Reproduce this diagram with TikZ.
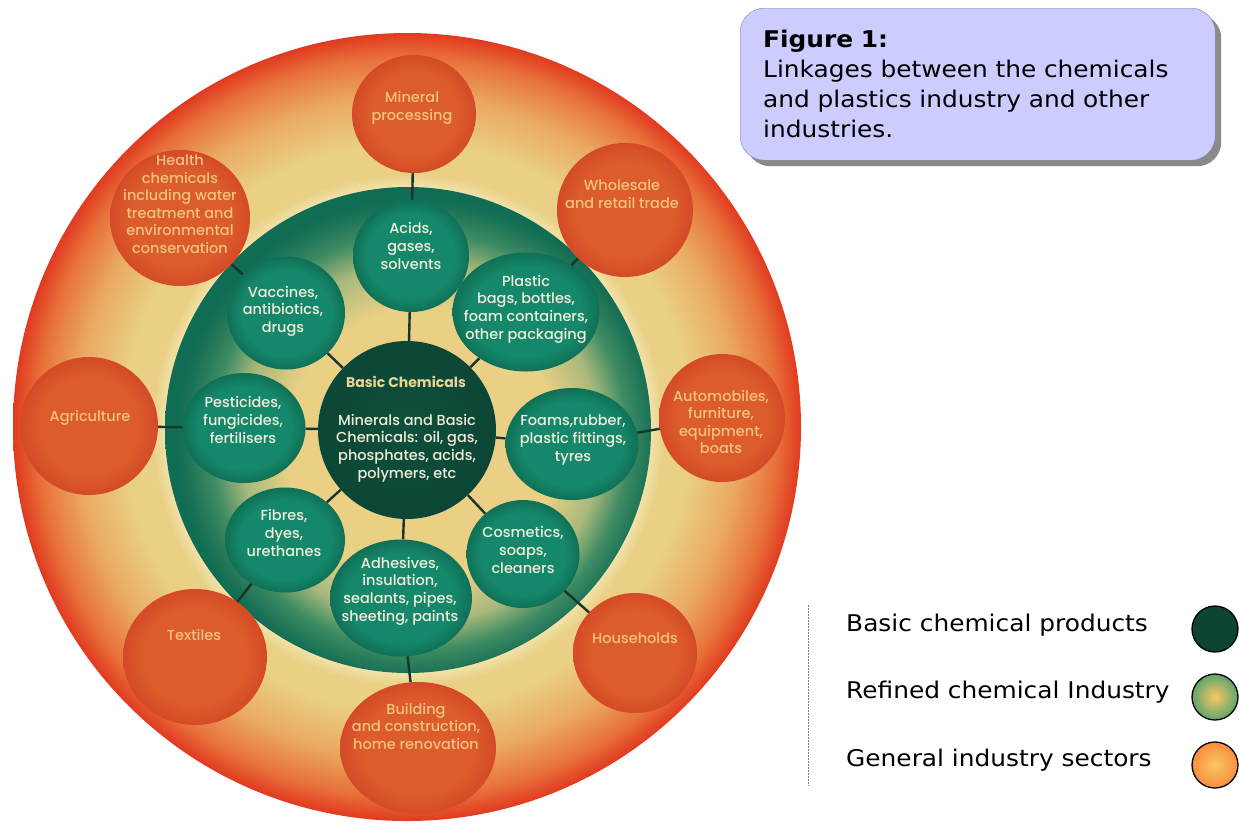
\documentclass[tikz,border=0pt]{standalone}
\usepackage{fontspec}
\setmainfont{Poppins}[UprightFont=* Medium,BoldFont=* Bold]
\newfontfamily\verd[FakeStretch=1.08]{DejaVu Sans}
\usepackage{tikz}
\usetikzlibrary{shapes.geometric,shadows}

\definecolor{rimred}{HTML}{E03A20}
\definecolor{rimorng}{HTML}{E8713A}
\definecolor{lightorng}{HTML}{EAAA62}
\definecolor{paleyel}{HTML}{E9D085}
\definecolor{halo}{HTML}{F3E5B0}
\definecolor{grnsoft}{HTML}{A9B97C}
\definecolor{grnmid}{HTML}{3E8B63}
\definecolor{grnedge}{HTML}{1A7256}
\definecolor{grnrim}{HTML}{106C53}
\definecolor{iblob}{HTML}{15876A}
\definecolor{iblobedge}{HTML}{0F7056}
\definecolor{oblob}{HTML}{DC5C2B}
\definecolor{oblobedge}{HTML}{D44A27}
\definecolor{basicdk}{HTML}{0C4636}
\definecolor{basicin}{HTML}{0F4F3C}
\definecolor{otxt}{HTML}{F3C282}
\definecolor{itxt}{HTML}{F1EDD8}
\definecolor{ctitle}{HTML}{EAD597}
\definecolor{linkcol}{HTML}{17352C}
\definecolor{boxfill}{HTML}{CCCCFF}
\definecolor{boxline}{HTML}{8080B0}
\definecolor{shadowgray}{HTML}{8A8A8A}
\definecolor{legdark}{HTML}{0D4532}
\definecolor{leggreen}{HTML}{5EA56D}
\definecolor{legyel}{HTML}{F8C862}
\definecolor{legorng}{HTML}{F98D3F}

\pgfdeclareradialshading{outerdisc}{\pgfpoint{0bp}{0bp}}{color(0bp)=(paleyel); color(18bp)=(paleyel);
  color(21bp)=(lightorng); color(23.5bp)=(rimorng); color(25bp)=(rimred); color(50bp)=(rimred)}
\pgfdeclareradialshading{halosh}{\pgfpoint{0bp}{0bp}}{color(0bp)=(halo); color(23.5bp)=(halo);
  color(25bp)=(paleyel); color(50bp)=(paleyel)}
\pgfdeclareradialshading{greendisc}{\pgfpoint{2bp}{-2bp}}{color(0bp)=(paleyel); color(14bp)=(paleyel);
  color(18.5bp)=(grnsoft); color(21.5bp)=(grnmid); color(24bp)=(grnedge); color(25bp)=(grnrim); color(50bp)=(grnrim)}
\pgfdeclareradialshading{iblobsh}{\pgfpoint{0bp}{0bp}}{color(0bp)=(iblob); color(19bp)=(iblob);
  color(25bp)=(iblobedge); color(50bp)=(iblobedge)}
\pgfdeclareradialshading{oblobsh}{\pgfpoint{0bp}{0bp}}{color(0bp)=(oblob); color(18bp)=(oblob);
  color(25bp)=(oblobedge); color(50bp)=(oblobedge)}
\pgfdeclareradialshading{basicsh}{\pgfpoint{0bp}{0bp}}{color(0bp)=(basicin); color(25bp)=(basicdk);
  color(50bp)=(basicdk)}

\begin{document}
\begin{tikzpicture}[x=1pt,y=-1pt,
  oblob/.style={ellipse,inner sep=0pt,shade,shading=oblobsh},
  iblob/.style={ellipse,inner sep=0pt,shade,shading=iblobsh},
  otext/.style={text=otxt,align=center,inner sep=0pt,font=\fontsize{14.5}{17.5}\selectfont},
  itext/.style={text=itxt,align=center,inner sep=0pt,font=\fontsize{14.5}{17.6}\selectfont},
  link/.style={draw=linkcol,line width=2.4pt},
  figbox/.style={rounded corners=24pt,draw=boxline,fill=boxfill,
    drop shadow={shadow xshift=6pt,shadow yshift=-6pt,fill=shadowgray,opacity=1},
    text width=429pt,inner xsep=23pt,minimum height=152pt,align=left,font=\verd\fontsize{23}{30}\selectfont},
  legtext/.style={inner sep=0pt,font=\verd\fontsize{23}{30}\selectfont},
  legdot/.style={circle,draw=black,line width=1.3pt,minimum size=46,inner sep=0pt}]
\useasboundingbox (0,0) rectangle (1239,823);
% background rings
\shade[shading=outerdisc] (407,427) circle[radius=394];
\shade[shading=halosh] (408,430) circle[radius=256];
\shade[shading=greendisc] (408,430) circle[radius=243];

% general industry sectors
\node[oblob,minimum width=124,minimum height=118] (mineral) at (414,114) {};
\node[oblob,minimum width=140,minimum height=136] (health) at (180,218) {};
\node[oblob,minimum width=136,minimum height=134] (wholesale) at (625,210) {};
\node[oblob,minimum width=138,minimum height=138] (agri) at (89,426) {};
\node[oblob,minimum width=126,minimum height=128] (autos) at (722,418) {};
\node[oblob,minimum width=144,minimum height=136] (textiles) at (195,657) {};
\node[oblob,minimum width=124,minimum height=120] (households) at (635,653) {};
\node[oblob,minimum width=156,minimum height=132] (building) at (418,748) {};

% refined chemical products
\node[iblob,minimum width=116,minimum height=112] (acids) at (411,256) {};
\node[iblob,minimum width=118,minimum height=113] (vaccines) at (286,313) {};
\node[iblob,minimum width=147,minimum height=119] (plastic) at (526,312) {};
\node[iblob,minimum width=123,minimum height=110] (pesticides) at (244,428) {};
\node[iblob,minimum width=133,minimum height=112] (foams) at (572,444) {};
\node[iblob,minimum width=120,minimum height=105] (fibres) at (285,540) {};
\node[iblob,minimum width=142,minimum height=117] (adhesives) at (401,598) {};
\node[iblob,minimum width=113,minimum height=108] (cosmetics) at (523,554) {};
\node[circle,inner sep=0pt,minimum size=178,shade,shading=basicsh] (basic) at (407,430) {};

% links
\draw[link] (mineral) -- (acids);   \draw[link] (acids) -- (basic);
\draw[link] (health) -- (vaccines); \draw[link] (vaccines) -- (basic);
\draw[link] (wholesale) -- (plastic); \draw[link] (plastic) -- (basic);
\draw[link] (agri) -- (pesticides); \draw[link] (pesticides) -- (basic);
\draw[link] (autos) -- (foams);     \draw[link] (foams) -- (basic);
\draw[link] (basic) -- (fibres);    \draw[link] (fibres) -- (textiles);
\draw[link] (basic) -- (adhesives); \draw[link] (adhesives) -- (building);
\draw[link] (basic) -- (cosmetics); \draw[link] (cosmetics) -- (households);

% labels
\node[otext] (mineral-t) at (412,108) {Mineral\\processing};
\node[otext] (health-t) at (180,204) {Health\\chemicals\\including water\\treatment and\\environmental\\conservation};
\node[otext] (wholesale-t) at (622,194) {Wholesale\\and retail trade};
\node[otext] (agri-t) at (90,418) {Agriculture};
\node[otext] (autos-t) at (721,422) {Automobiles,\\furniture,\\equipment,\\boats};
\node[otext] (textiles-t) at (194,635) {Textiles};
\node[otext] (households-t) at (635,638) {Households};
\node[otext] (building-t) at (416,726) {Building\\and construction,\\home renovation};

\node[itext] (acids-t) at (411,246) {Acids,\\gases,\\solvents};
\node[itext] (vaccines-t) at (283,311) {Vaccines,\\antibiotics,\\drugs};
\node[itext] (plastic-t) at (526,309) {Plastic\\bags, bottles,\\foam containers,\\other packaging};
\node[itext] (pesticides-t) at (243,420) {Pesticides,\\fungicides,\\fertilisers};
\node[itext] (foams-t) at (573,440) {Foams,rubber,\\plastic fittings,\\tyres};
\node[itext] (fibres-t) at (284,533) {Fibres,\\dyes,\\urethanes};
\node[itext] (adhesives-t) at (400,591) {Adhesives,\\insulation,\\sealants, pipes,\\sheeting, paints};
\node[itext] (cosmetics-t) at (523,550) {Cosmetics,\\soaps,\\cleaners};
\node[itext,text=ctitle,font=\bfseries\fontsize{14}{17.5}\selectfont] (basic-h) at (406,382) {Basic Chemicals};
\node[itext] (basic-t) at (407,448) {Minerals and Basic\\Chemicals: oil, gas,\\phosphates, acids,\\polymers, etc};

% caption box
\node[figbox,anchor=north west] (fig) at (740,8) {\textbf{Figure 1:}\\Linkages between the chemicals\\and plastics industry and other\\industries.};

% key
\coordinate (key-top) at (808,605);
\coordinate (key-bot) at (808,786);
\draw[gray,dashed,dash pattern=on 2pt off 1pt] (key-top) -- (key-bot);
\node[legtext,anchor=west] (key-basic) at (846,625) {Basic chemical products};
\node[legtext,anchor=west] (key-refined) at (846,692) {Refined chemical Industry};
\node[legtext,anchor=west] (key-general) at (846,760) {General industry sectors};
\node[legdot,fill=legdark] (dot-basic) at (1215,629) {};
\node[legdot,inner color=legyel,outer color=leggreen] (dot-refined) at (1215,697) {};
\node[legdot,inner color=legyel,outer color=legorng] (dot-general) at (1215,765) {};
\end{tikzpicture}
\end{document}
